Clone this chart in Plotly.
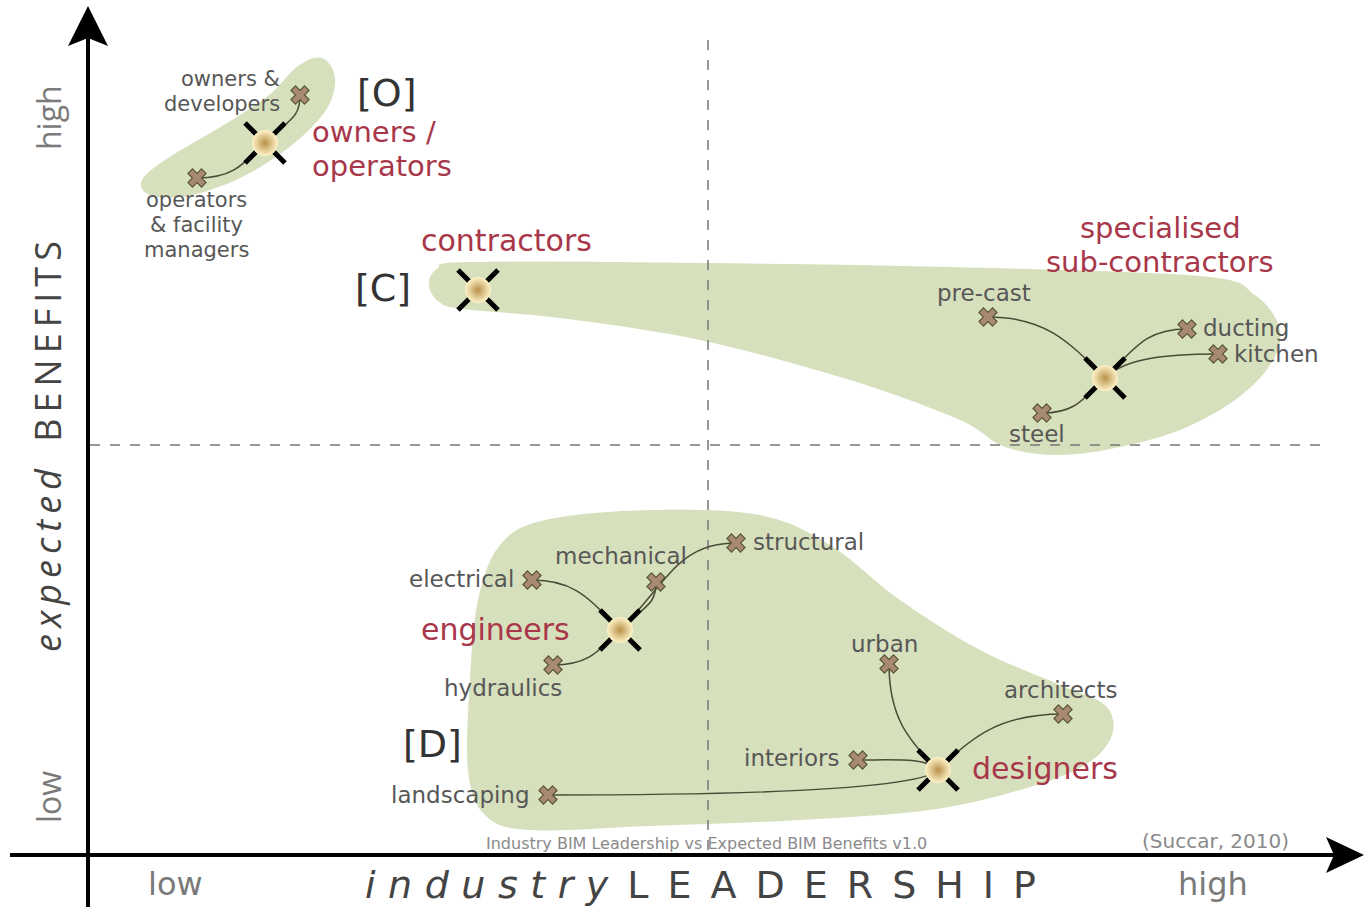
import plotly.graph_objects as go

# hub positions (pixel space of the diagram: x = leadership, y = benefits, y grows downward)
hub_names = ["owners", "contractors", "subcon", "engineers", "designers"]
hub_x = [265, 478, 1105, 620, 938]
hub_y = [143, 290, 378, 630, 770]

# sub-group nodes and the hub they hang from
sub_names = ["owners & developers", "operators & facility managers",
             "pre-cast", "ducting", "kitchen", "steel",
             "electrical", "mechanical", "structural", "hydraulics",
             "urban", "architects", "interiors", "landscaping"]
sub_x = [300, 197, 988, 1187, 1218, 1042, 532, 656, 736, 553, 889, 1063, 858, 548]
sub_y = [95, 178, 317, 329, 354, 413, 580, 582, 543, 665, 664, 714, 760, 795]
sub_parent = [0, 0, 2, 2, 2, 2, 3, 3, 3, 3, 4, 4, 4, 4]

# group outlines
blob_O = [(322, 58), (335, 78), (326, 110), (292, 145), (242, 177), (188, 196), (150, 195),
          (142, 180), (168, 158), (222, 126), (268, 96), (298, 66)]
blob_C = [(470, 262), (700, 263), (950, 267), (1200, 276), (1255, 295), (1280, 330), (1270, 365),
          (1235, 400), (1180, 430), (1120, 447), (1060, 455), (1005, 447), (960, 420),
          (850, 380), (700, 340), (560, 318), (462, 309), (438, 301), (429, 285), (437, 269)]
blob_D = [(500, 545), (545, 520), (650, 510), (760, 515), (830, 545), (900, 600), (980, 650),
          (1060, 685), (1105, 705), (1112, 735), (1085, 765), (1020, 790), (930, 810),
          (800, 820), (650, 826), (530, 830), (485, 815), (468, 770), (470, 680), (478, 600)]

GREEN = "#d7e0bc"
RED = "#a8374a"
GREY = "#575757"
FONT = "DejaVu Sans"


def smooth_path(pts):
    n = len(pts)
    d = f"M {pts[0][0]},{pts[0][1]}"
    for i in range(n):
        p0, p1, p2, p3 = pts[i - 1], pts[i], pts[(i + 1) % n], pts[(i + 2) % n]
        c1 = (p1[0] + (p2[0] - p0[0]) / 6, p1[1] + (p2[1] - p0[1]) / 6)
        c2 = (p2[0] - (p3[0] - p1[0]) / 6, p2[1] - (p3[1] - p1[1]) / 6)
        d += f" C {c1[0]:.1f},{c1[1]:.1f} {c2[0]:.1f},{c2[1]:.1f} {p2[0]},{p2[1]}"
    return d + " Z"


def link_path(hx, hy, sx, sy):
    dx, dy = sx - hx, sy - hy
    sgx = 1 if dx >= 0 else -1
    sgy = 1 if dy >= 0 else -1
    L = 0.45 * min(abs(dx), abs(dy)) + 8
    c1 = (hx + sgx * L, hy + sgy * L)
    if abs(dx) > abs(dy):
        c2 = (sx - 0.5 * dx, sy)
    else:
        c2 = (sx, sy - 0.5 * dy)
    return f"M {hx},{hy} C {c1[0]:.1f},{c1[1]:.1f} {c2[0]:.1f},{c2[1]:.1f} {sx},{sy}"


fig = go.Figure()
shapes = []
for b in (blob_O, blob_C, blob_D):
    shapes.append(dict(type="path", path=smooth_path(b), fillcolor=GREEN,
                       line=dict(width=0), layer="below"))

# quadrant dividers
shapes.append(dict(type="line", x0=708, x1=708, y0=40, y1=852, layer="below",
                   line=dict(color="#777777", width=1.5, dash="10px,10px")))
shapes.append(dict(type="line", x0=90, x1=1330, y0=445, y1=445, layer="below",
                   line=dict(color="#777777", width=1.5, dash="10px,10px")))

# links
for i in range(len(sub_names)):
    p = sub_parent[i]
    shapes.append(dict(type="path", path=link_path(hub_x[p], hub_y[p], sub_x[i], sub_y[i]),
                       line=dict(color="#4a4a36", width=1.5), layer="below"))

# axes with arrows
shapes.append(dict(type="line", x0=88, x1=88, y0=907, y1=30, line=dict(color="black", width=4)))
shapes.append(dict(type="line", x0=10, x1=1340, y0=855, y1=855, line=dict(color="black", width=4)))
shapes.append(dict(type="path", path="M 88,6 L 108,46 L 88,38 L 68,46 Z",
                   fillcolor="black", line=dict(width=0)))
shapes.append(dict(type="path", path="M 1364,855 L 1326,837 L 1334,855 L 1326,873 Z",
                   fillcolor="black", line=dict(width=0)))

# hubs: black cross with a sphere on top
fig.add_trace(go.Scatter(x=hub_x, y=hub_y, mode="markers", hoverinfo="skip",
                         marker=dict(symbol="x-thin", size=40,
                                     line=dict(color="black", width=5))))
fig.add_trace(go.Scatter(x=hub_x, y=hub_y, mode="markers", hoverinfo="skip",
                         marker=dict(symbol="circle", size=26, color="#fff3c8",
                                     gradient=dict(type="radial", color="#b8924a"),
                                     line=dict(width=0))))
# sub-group nodes
fig.add_trace(go.Scatter(x=sub_x, y=sub_y, mode="markers", hoverinfo="skip",
                         marker=dict(symbol="x", size=16, color="#a88a72",
                                     line=dict(color="#5a5638", width=1.2))))

ann = []


def label(x, y, text, size=23, color=GREY, xanchor="center", family=FONT, **kw):
    ann.append(dict(x=x, y=y, text=text, showarrow=False, xanchor=xanchor, yanchor="middle",
                    font=dict(family=family, size=size, color=color), **kw))


# sub-group labels
label(282, 79, "owners &amp;", size=21, xanchor="right")
label(282, 104, "developers", size=21, xanchor="right")
label(196, 200, "operators", size=21)
label(196, 225, "&amp; facility", size=21)
label(196, 250, "managers", size=21)
label(984, 293, "pre-cast")
label(1201, 328, "ducting", xanchor="left")
label(1232, 354, "kitchen", xanchor="left")
label(1037, 434, "steel")
label(516, 579, "electrical", xanchor="right")
label(621, 556, "mechanical")
label(751, 542, "structural", xanchor="left")
label(503, 688, "hydraulics")
label(884, 644, "urban")
label(1060, 690, "architects")
label(842, 758, "interiors", xanchor="right")
label(532, 795, "landscaping", xanchor="right")

# group labels
label(310, 132, "owners /", size=29, color=RED, xanchor="left")
label(310, 166, "operators", size=29, color=RED, xanchor="left")
label(506, 240, "contractors", size=30, color=RED)
label(1160, 228, "specialised", size=29, color=RED)
label(1160, 262, "sub-contractors", size=29, color=RED)
label(495, 629, "engineers", size=30, color=RED)
label(970, 768, "designers", size=30, color=RED, xanchor="left")

label(387, 93, "[O]", size=38, color="#333333")
label(383, 288, "[C]", size=38, color="#333333")
label(432, 744, "[D]", size=38, color="#333333")

# axis titles
th = "\u2004"
en = "\u2002"
sx = "\u2006"
label(48, 118, "high", size=32, color="#7a7a7a", textangle=-90, family="Open Sans")
label(48, 797, "low", size=32, color="#7a7a7a", textangle=-90, family="Open Sans")
label(47, 447, "<i>" + sx.join("expected") + "</i>" + " " + en + sx.join("BENEFITS"),
      size=36, color="#444444", textangle=-90, family="Open Sans")
label(175, 884, "low", size=32, color="#7a7a7a")
label(1213, 884, "high", size=32, color="#7a7a7a")
label(700, 885, "<i>" + th.join("industry") + "</i>" + en + en.join("LEADERSHIP"),
      size=38, color="#444444")

label(706, 843, "Industry BIM Leadership vs Expected BIM Benefits v1.0", size=16, color="#8a8a8a")
label(1215, 841, "(Succar, 2010)", size=20, color="#8a8a8a")

fig.update_layout(
    width=1366, height=907,
    margin=dict(l=0, r=0, t=0, b=0),
    paper_bgcolor="white", plot_bgcolor="white",
    showlegend=False,
    xaxis=dict(range=[0, 1366], visible=False, fixedrange=True),
    yaxis=dict(range=[907, 0], visible=False, fixedrange=True),
    shapes=shapes, annotations=ann,
)

fig.write_html("out.html", config={"displayModeBar": False},
               post_script="document.body.style.margin='0px';document.body.style.overflow='hidden';")
